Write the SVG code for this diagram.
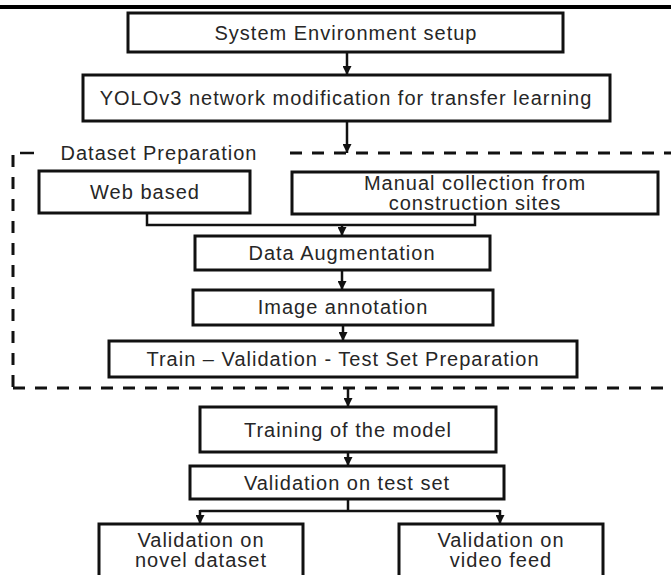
<svg xmlns="http://www.w3.org/2000/svg" width="671" height="575" viewBox="0 0 671 575">
<style>
.box{fill:#fff;stroke:#111;stroke-width:3}
.t{font-family:"Liberation Sans",Arial,Helvetica,sans-serif;font-size:20px;letter-spacing:1px;fill:#262626;text-anchor:middle}
.ln{fill:none;stroke:#111;stroke-width:2.5}
.dash{fill:none;stroke:#111;stroke-width:3;stroke-dasharray:12 10}
</style>
<defs>
<marker id="ah" viewBox="0 0 10 10" refX="10" refY="5" markerWidth="9" markerHeight="9" markerUnits="userSpaceOnUse" orient="auto">
<path d="M0,0 L10,5 L0,10 z" fill="#111"/>
</marker>
</defs>
<rect x="0" y="0" width="671" height="575" fill="#fff"/>
<rect x="0" y="5" width="671" height="4" fill="#000"/>

<g id="dataset-preparation">
<path class="ln" d="M20,153 H34" stroke-width="3"/>
<path class="dash" d="M290,153 H671"/>
<path class="dash" d="M13,155 V388"/>
<path class="dash" d="M13,388 H671"/>
<text class="t" x="159" y="160">Dataset Preparation</text>
</g>

<g id="connectors">
<path class="ln" d="M347,52 V75" marker-end="url(#ah)"/>
<path class="ln" d="M347,121 V153" marker-end="url(#ah)"/>
<path class="ln" d="M147,213 V225 H475 V214"/>
<path class="ln" d="M342,225 V236" marker-end="url(#ah)"/>
<path class="ln" d="M342,270 V290" marker-end="url(#ah)"/>
<path class="ln" d="M343,325 V341" marker-end="url(#ah)"/>
<path class="ln" d="M348,388 V407" marker-end="url(#ah)"/>
<path class="ln" d="M348,452 V466" marker-end="url(#ah)"/>
<path class="ln" d="M348,499 V511"/>
<path class="ln" d="M200,511 H500"/>
<path class="ln" d="M200,510 V524" marker-end="url(#ah)"/>
<path class="ln" d="M500,510 V524" marker-end="url(#ah)"/>
</g>

<g id="system-env">
<rect class="box" x="128" y="13" width="435" height="39"/>
<text class="t" x="346" y="40">System Environment setup</text>
</g>
<g id="yolo-mod">
<rect class="box" x="83" y="75" width="527" height="46"/>
<text class="t" x="346" y="105">YOLOv3 network modification for transfer learning</text>
</g>
<g id="web-based">
<rect class="box" x="39" y="171" width="211" height="42"/>
<text class="t" x="145" y="199">Web based</text>
</g>
<g id="manual-collection">
<rect class="box" x="292" y="172" width="366" height="42"/>
<text class="t" x="475" y="190">Manual collection from</text>
<text class="t" x="475" y="210">construction sites</text>
</g>
<g id="data-augmentation">
<rect class="box" x="195" y="236" width="295" height="34"/>
<text class="t" x="342" y="260">Data Augmentation</text>
</g>
<g id="image-annotation">
<rect class="box" x="193" y="290" width="300" height="35"/>
<text class="t" x="343" y="314">Image annotation</text>
</g>
<g id="train-val-test">
<rect class="box" x="109" y="341" width="468" height="36"/>
<text class="t" x="343" y="366">Train – Validation - Test Set Preparation</text>
</g>
<g id="training">
<rect class="box" x="200" y="407" width="296" height="45"/>
<text class="t" x="348" y="437">Training of the model</text>
</g>
<g id="validation-test">
<rect class="box" x="190" y="466" width="314" height="33"/>
<text class="t" x="347" y="490">Validation on test set</text>
</g>
<g id="validation-novel">
<rect class="box" x="99" y="524" width="204" height="60"/>
<text class="t" x="201" y="547">Validation on</text>
<text class="t" x="201" y="567">novel dataset</text>
</g>
<g id="validation-video">
<rect class="box" x="399" y="524" width="204" height="60"/>
<text class="t" x="501" y="547">Validation on</text>
<text class="t" x="501" y="567">video feed</text>
</g>
</svg>
